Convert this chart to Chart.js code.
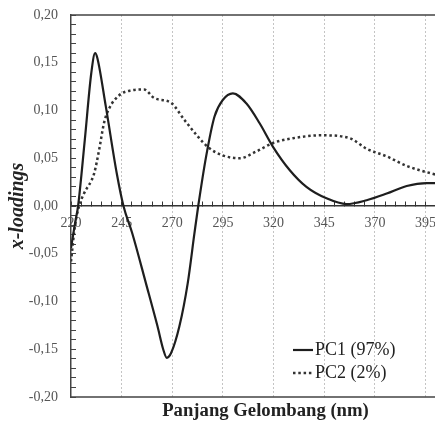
<!DOCTYPE html>
<html>
<head>
<meta charset="utf-8">
<script src="https://cdn.jsdelivr.net/npm/chart.js@4"></script>
<style>
  html, body { margin: 0; padding: 0; background: #fff; overflow: hidden; }
  #wrap { width: 460px; height: 426px; }
</style>
</head>
<body>
<div id="wrap"><canvas id="myChart" width="460" height="426"></canvas></div>
<script>
// values
var seriesNames = ['PC1 (97%)', 'PC2 (2%)'];
var wavePC1 = [220, 222, 223.5, 226.8, 230, 231.9, 233, 237.2, 242.6, 245.9, 250.3, 257, 262.7, 265.5, 267.3, 269.4, 273.5, 277.6, 280.9, 282.8, 286.7, 290.8, 294.9, 299.9, 306.5, 313.1, 319.7, 327.9, 336.2, 346.1, 356, 365.9, 375.8, 385.7, 395.6, 400, 410];
var loadPC1 = [-0.044, -0.018, 0.0, 0.069, 0.139, 0.160, 0.155, 0.104, 0.034, 0.0, -0.029, -0.081, -0.126, -0.150, -0.159, -0.154, -0.126, -0.081, -0.029, 0.0, 0.052, 0.0935, 0.111, 0.118, 0.1075, 0.0866, 0.062, 0.0377, 0.020, 0.008, 0.002, 0.006, 0.013, 0.021, 0.024, 0.024, 0.022];
var wavePC2 = [220, 222, 224, 226.4, 231.4, 233.9, 236.3, 238.8, 243.8, 249.6, 256.1, 261.1, 269.4, 276, 282.5, 288, 294.9, 303.2, 311.4, 319.7, 329.6, 343.6, 357.6, 365.9, 375.8, 385.7, 398.9, 410];
var loadPC2 = [-0.058, -0.02, 0.0, 0.013, 0.034, 0.059, 0.087, 0.102, 0.116, 0.121, 0.122, 0.113, 0.108, 0.090, 0.073, 0.061, 0.053, 0.050, 0.057, 0.066, 0.071, 0.074, 0.071, 0.060, 0.052, 0.042, 0.0335, 0.028];
var xTickLabels = [220, 245, 270, 295, 320, 345, 370, 395];

function toPoints(xs, ys) {
  return xs.map(function (x, i) { return { x: x, y: ys[i] }; });
}
function isMajorX(v) {
  return xTickLabels.indexOf(Math.round(v * 100) / 100) !== -1;
}
// keep the plot area where the layout padding puts it
function noPad(s) {
  s.paddingLeft = 0; s.paddingRight = 0; s.paddingTop = 0; s.paddingBottom = 0;
}

// top and bottom frame lines
var frame = {
  id: 'frame',
  beforeDatasetsDraw: function (chart) {
    var a = chart.chartArea, ctx = chart.ctx;
    ctx.save();
    ctx.strokeStyle = '#444';
    ctx.lineWidth = 1.5;
    ctx.beginPath();
    ctx.moveTo(a.left, a.top); ctx.lineTo(a.right, a.top);
    ctx.moveTo(a.left, a.bottom); ctx.lineTo(a.right, a.bottom);
    ctx.stroke();
    ctx.restore();
  }
};

// legend inside the plot, bottom right
var legendInside = {
  id: 'legendInside',
  afterDatasetsDraw: function (chart) {
    var ctx = chart.ctx;
    chart.data.datasets.forEach(function (ds, i) {
      var y = 350 + i * 23;
      ctx.save();
      ctx.strokeStyle = ds.borderColor;
      ctx.lineWidth = ds.borderWidth;
      ctx.setLineDash(ds.borderDash || []);
      ctx.beginPath();
      ctx.moveTo(293, y); ctx.lineTo(313, y);
      ctx.stroke();
      ctx.setLineDash([]);
      ctx.fillStyle = '#222';
      ctx.font = '18px "Liberation Serif"';
      ctx.textAlign = 'left';
      ctx.textBaseline = 'middle';
      ctx.fillText(ds.label, 315, y);
      ctx.restore();
    });
  }
};

var ctx = document.getElementById('myChart');
new Chart(ctx, {
  type: 'line',
  data: {
    datasets: [{
      label: seriesNames[0],
      data: toPoints(wavePC1, loadPC1),
      borderColor: '#1e1e1e',
      borderWidth: 2.2,
      pointRadius: 0,
      cubicInterpolationMode: 'monotone'
    }, {
      label: seriesNames[1],
      data: toPoints(wavePC2, loadPC2),
      borderColor: '#333',
      borderWidth: 2.5,
      borderDash: [2.5, 2.8],
      pointRadius: 0,
      cubicInterpolationMode: 'monotone'
    }]
  },
  options: {
    responsive: false,
    animation: false,
    layout: { padding: { top: 15, left: 0, right: 0, bottom: 0 } },
    plugins: { legend: { display: false }, tooltip: { enabled: false } },
    scales: {
      x: {
        type: 'linear',
        position: { y: 0 },
        min: 220,
        max: 412,
        border: { color: '#333', width: 1.5, dash: [2, 2] },
        grid: {
          color: function (c) { return (c.tick && isMajorX(c.tick.value) && c.tick.value > 220) ? '#c4c4c4' : 'rgba(0,0,0,0)'; },
          lineWidth: 1,
          tickColor: '#333',
          tickLength: -5,
          tickWidth: 1
        },
        ticks: {
          stepSize: 5,
          autoSkip: false,
          maxRotation: 0,
          padding: 14,
          color: '#555',
          font: { family: 'Liberation Serif', size: 14 },
          callback: function (v) { return isMajorX(v) ? String(v) : ''; }
        },
        afterFit: noPad
      },
      x2: {
        type: 'linear',
        axis: 'x',
        position: 'bottom',
        min: 220,
        max: 412,
        border: { display: false },
        grid: { display: false, drawTicks: false },
        ticks: { display: false },
        title: {
          display: true,
          text: 'Panjang Gelombang (nm)',
          color: '#222',
          font: { family: 'Liberation Serif', size: 18.7, weight: 'bold' },
          padding: { top: 0, bottom: 4 }
        },
        afterFit: function (s) { noPad(s); s.height = 29; }
      },
      y: {
        position: 'left',
        min: -0.2,
        max: 0.2,
        border: { color: '#444', width: 1.5 },
        grid: { drawOnChartArea: false, tickColor: '#444', tickLength: -5 },
        ticks: {
          stepSize: 0.01,
          autoSkip: false,
          padding: 18,
          color: '#555',
          font: { family: 'Liberation Serif', size: 14 },
          callback: function (v) {
            var k = Math.round(v * 100);
            if (k % 5 !== 0) return '';
            return (k / 100).toFixed(2).replace('.', ',');
          }
        },
        title: {
          display: true,
          text: 'x-loadings',
          color: '#222',
          font: { family: 'Liberation Serif', size: 20, weight: 'bold', style: 'italic' },
          padding: { top: 6, bottom: 0 }
        },
        afterFit: function (s) { noPad(s); s.width = 71; }
      }
    }
  },
  plugins: [frame, legendInside]
});
</script>
</body>
</html>
